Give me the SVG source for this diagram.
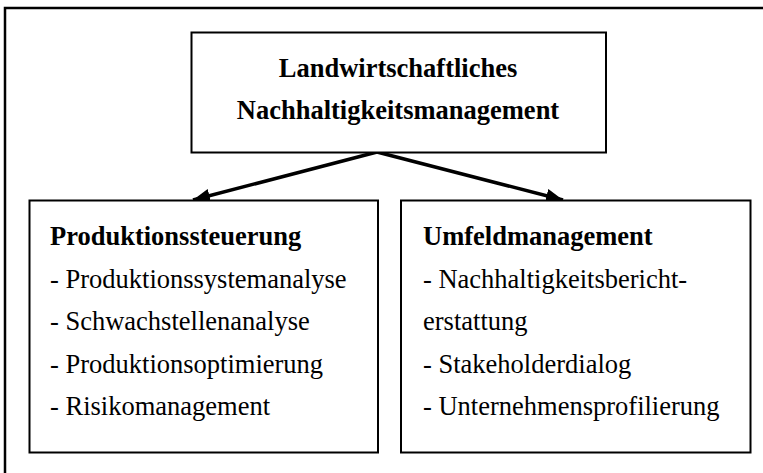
<svg xmlns="http://www.w3.org/2000/svg" width="763" height="473" viewBox="0 0 763 473">
<defs>
<style>
.box{fill:#fff;stroke:#000;stroke-width:2}
.b{font-family:"Liberation Serif","Times New Roman",serif;font-size:26.5px;font-weight:bold;fill:#000}
.r{font-family:"Liberation Serif","Times New Roman",serif;font-size:26.5px;fill:#000}
.conn{stroke:#000;stroke-width:3.5;fill:none}
</style>
<marker id="ah" markerUnits="userSpaceOnUse" markerWidth="20" markerHeight="16" refX="17" refY="7" orient="auto">
<path d="M0,0 L17,7 L0,14 Z" fill="#000"/>
</marker>
</defs>
<rect width="763" height="473" fill="#fff"/>
<rect x="5" y="8" width="800" height="500" fill="none" stroke="#000" stroke-width="2.5"/>
<g id="connectors">
<line class="conn" x1="377" y1="152" x2="193" y2="200" marker-end="url(#ah)"/>
<line class="conn" x1="377" y1="152" x2="563" y2="200" marker-end="url(#ah)"/>
</g>
<g id="node-top">
<rect class="box" x="191.5" y="32.5" width="414.5" height="120"/>
<text class="b" x="398" y="76.7" text-anchor="middle">Landwirtschaftliches</text>
<text class="b" x="398" y="119.3" text-anchor="middle">Nachhaltigkeitsmanagement</text>
</g>
<g id="node-produktion">
<rect class="box" x="29.5" y="200.5" width="348.5" height="252"/>
<text class="b" x="50" y="245">Produktionssteuerung</text>
<text class="r" x="50" y="287.6">- Produktionssystemanalyse</text>
<text class="r" x="50" y="330.2">- Schwachstellenanalyse</text>
<text class="r" x="50" y="372.8">- Produktionsoptimierung</text>
<text class="r" x="50" y="415.4">- Risikomanagement</text>
</g>
<g id="node-umfeld">
<rect class="box" x="401" y="200.5" width="349.5" height="252"/>
<text class="b" x="423" y="245">Umfeldmanagement</text>
<text class="r" x="423" y="287.6">- Nachhaltigkeitsbericht-</text>
<text class="r" x="423" y="330.2">erstattung</text>
<text class="r" x="423" y="372.8">- Stakeholderdialog</text>
<text class="r" x="423" y="415.4">- Unternehmensprofilierung</text>
</g>
</svg>
